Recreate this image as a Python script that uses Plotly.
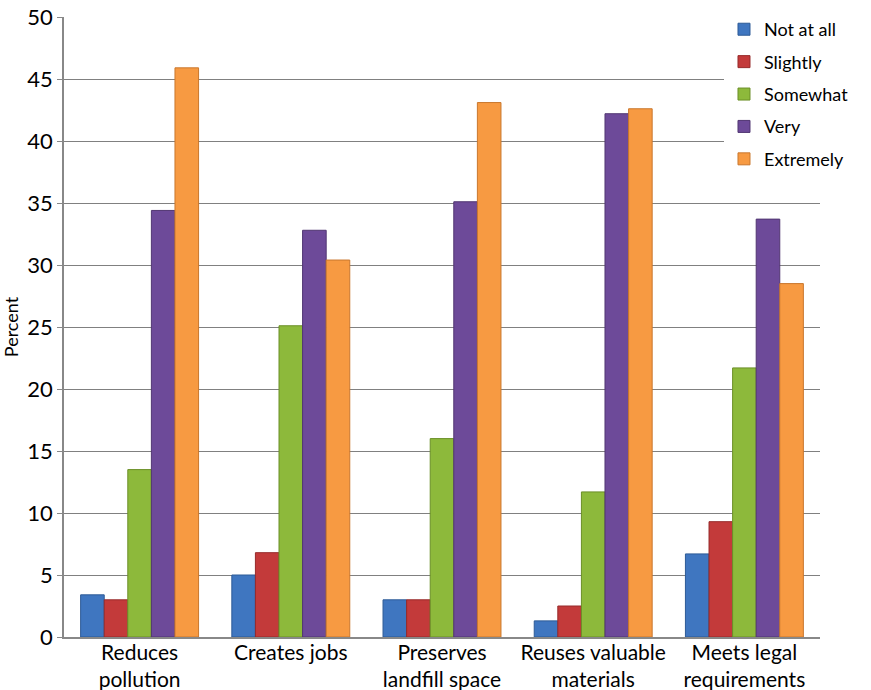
import plotly.graph_objects as go

categories = ["Reduces<br>pollution", "Creates jobs", "Preserves<br>landfill space",
              "Reuses valuable<br>materials", "Meets legal<br>requirements"]
series_names = ["Not at all", "Slightly", "Somewhat", "Very", "Extremely"]
not_at_all = [3.4, 5.0, 3.0, 1.3, 6.7]
slightly = [3.0, 6.8, 3.0, 2.5, 9.3]
somewhat = [13.5, 25.1, 16.0, 11.7, 21.7]
very = [34.4, 32.8, 35.1, 42.2, 33.7]
extremely = [45.9, 30.4, 43.1, 42.6, 28.5]
y_ticks = [0, 5, 10, 15, 20, 25, 30, 35, 40, 45, 50]

values = [not_at_all, slightly, somewhat, very, extremely]
colors = ["#3F76C0", "#C33A3A", "#8DB93B", "#6D4A99", "#F79A42"]
lines = ["#2D5A96", "#962A2A", "#6B8F27", "#513672", "#C9772D"]

fig = go.Figure()
for name, vals, c, lc in zip(series_names, values, colors, lines):
    fig.add_trace(go.Bar(
        x=categories, y=vals, name=name, legendgroup=name,
        marker=dict(color=c, line=dict(color=lc, width=1)),
    ))

font = "Lato, 'Open Sans', sans-serif"
fig.update_layout(
    width=871, height=690,
    margin=dict(l=64, r=51, t=16, b=53),
    paper_bgcolor="white", plot_bgcolor="white",
    barmode="group", bargap=0.22, bargroupgap=0,
    font=dict(family=font, size=20, color="#000"),
    legend=dict(x=0.873, y=1.008, xanchor="left", yanchor="top",
                bgcolor="white", font=dict(size=18), tracegroupgap=6,
                itemwidth=30),
    xaxis=dict(showline=True, linecolor="#888", linewidth=1.5,
               ticks="", tickfont=dict(size=21), showgrid=False,
               tickangle=0, automargin=False, ticklabelstandoff=-4),
    yaxis=dict(range=[0, 50], tickvals=y_ticks, showgrid=True,
               gridcolor="#808080", gridwidth=1.2,
               showline=True, linecolor="#888", linewidth=1.5,
               ticks="outside", ticklen=5, tickcolor="#888",
               tickfont=dict(size=22), automargin=False,
               title=dict(text="Percent", font=dict(size=18), standoff=12)),
)
fig.write_html("out.html", config={"displayModeBar": False},
               post_script="document.body.style.margin='0px';")
